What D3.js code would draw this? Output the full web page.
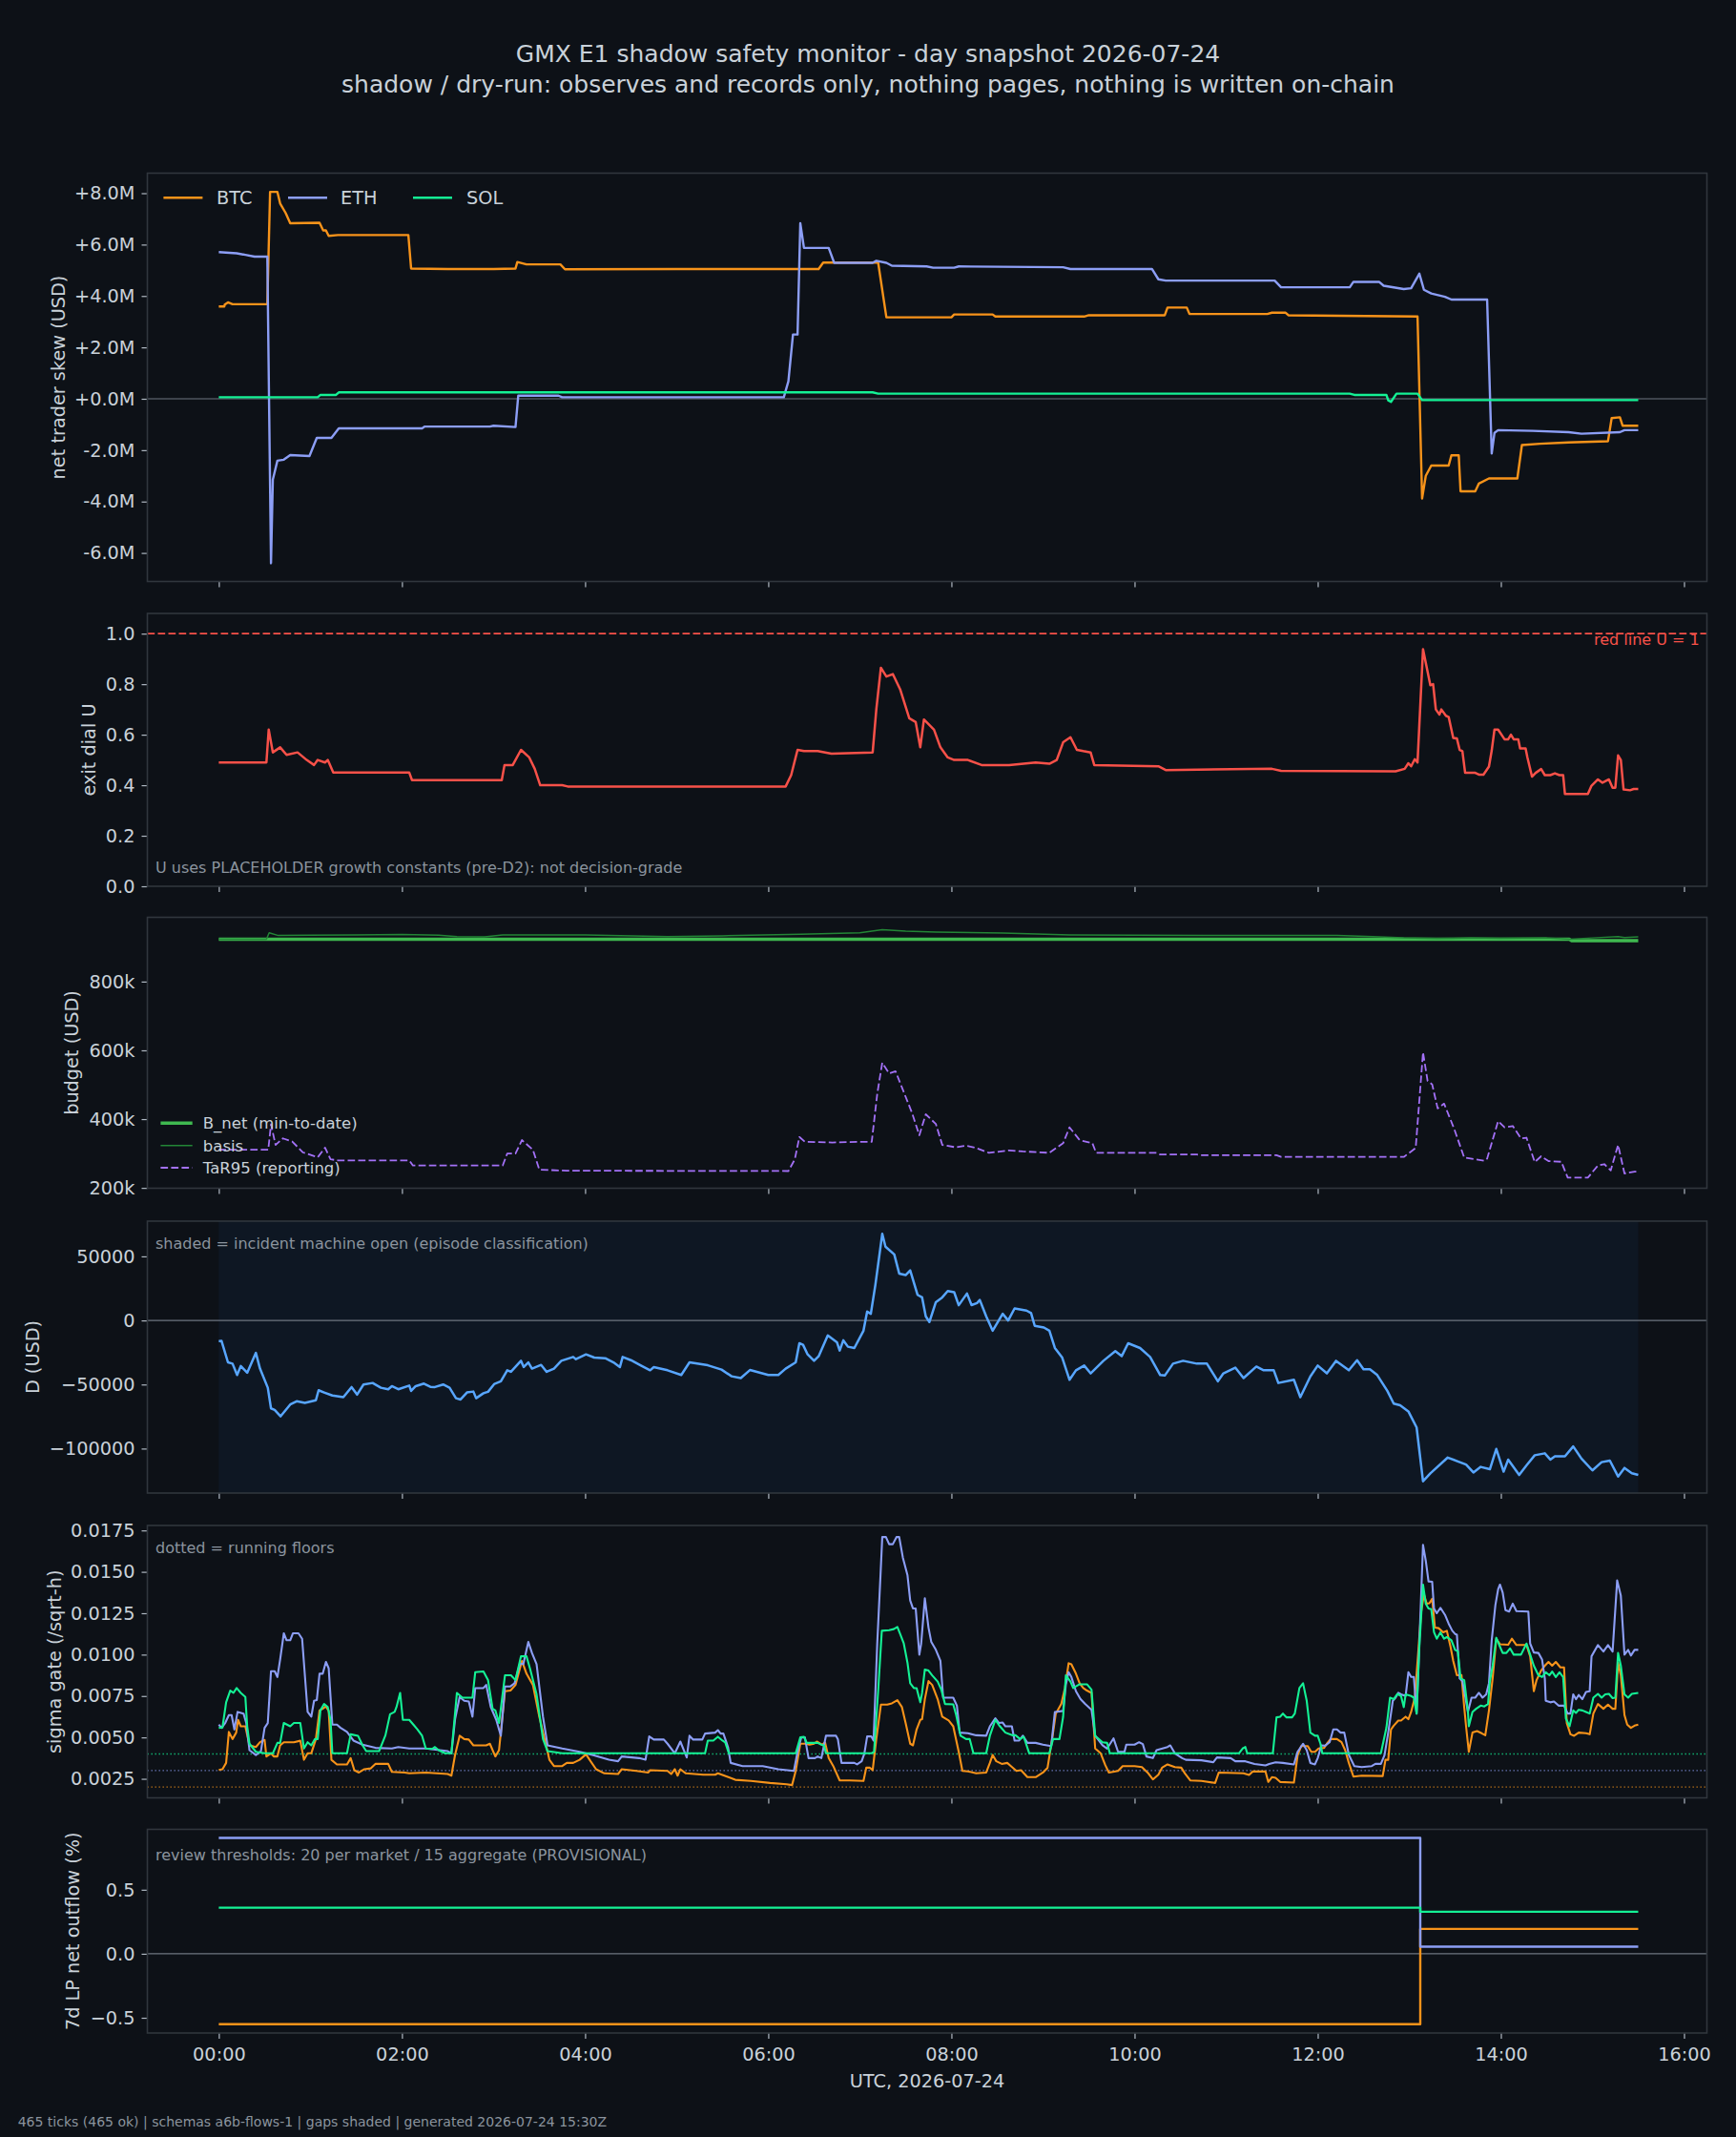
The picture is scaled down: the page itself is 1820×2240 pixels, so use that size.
<!DOCTYPE html>
<html>
<head>
<meta charset="utf-8">
<script src="https://cdn.jsdelivr.net/npm/d3@7"></script>
<style>
  body { margin: 0; background: #0d1117; }
  svg text { font-family: "DejaVu Sans", sans-serif; }
</style>
</head>
<body>
<div id="chart"></div>
<script>
// all times in hours since 00:00 UTC
var hourTicks = [0, 2, 4, 6, 8, 10, 12, 14, 16];

// net trader skew, USD millions
var btcSkew = [[0,3.59],[0.06,3.59],[0.065,3.67],[0.1,3.75],[0.15,3.68],[0.53,3.68],[0.56,8.05],[0.64,8.05],[0.67,7.6],[0.73,7.23],[0.78,6.83],[1.1,6.85],[1.14,6.55],[1.17,6.55],[1.2,6.34],[1.3,6.37],[2.07,6.37],[2.1,5.07],[2.5,5.05],[3.0,5.05],[3.24,5.07],[3.26,5.32],[3.36,5.23],[3.73,5.23],[3.78,5.04],[5.0,5.05],[6.55,5.05],[6.6,5.3],[7.2,5.3],[7.29,3.17],[8.0,3.17],[8.03,3.28],[8.45,3.28],[8.48,3.2],[9.45,3.2],[9.5,3.25],[10.33,3.25],[10.36,3.55],[10.57,3.55],[10.6,3.3],[11.45,3.3],[11.5,3.35],[11.65,3.35],[11.68,3.25],[13.09,3.2],[13.14,-3.88],[13.18,-3.0],[13.24,-2.6],[13.43,-2.6],[13.46,-2.2],[13.54,-2.2],[13.56,-3.6],[13.72,-3.6],[13.76,-3.3],[13.87,-3.1],[14.18,-3.1],[14.23,-1.8],[14.43,-1.75],[14.74,-1.7],[15.17,-1.65],[15.21,-0.75],[15.3,-0.72],[15.33,-1.05],[15.5,-1.05]];
var ethSkew = [[0,5.71],[0.195,5.66],[0.29,5.6],[0.39,5.53],[0.53,5.53],[0.57,-6.4],[0.59,-3.15],[0.64,-2.41],[0.71,-2.37],[0.78,-2.19],[0.99,-2.23],[1.07,-1.52],[1.23,-1.52],[1.31,-1.15],[2.22,-1.15],[2.25,-1.08],[2.96,-1.08],[3.0,-1.05],[3.24,-1.1],[3.27,0.12],[3.71,0.12],[3.75,0.06],[6.17,0.06],[6.22,0.68],[6.27,2.5],[6.32,2.5],[6.35,6.83],[6.39,5.87],[6.66,5.87],[6.72,5.29],[7.14,5.29],[7.18,5.37],[7.29,5.29],[7.35,5.18],[7.73,5.15],[7.8,5.1],[8.03,5.1],[8.08,5.15],[9.22,5.12],[9.3,5.05],[10.19,5.05],[10.26,4.65],[10.34,4.6],[11.53,4.6],[11.6,4.34],[12.35,4.34],[12.39,4.55],[12.67,4.55],[12.72,4.4],[12.94,4.27],[13.02,4.3],[13.11,4.87],[13.16,4.24],[13.24,4.1],[13.39,3.97],[13.46,3.86],[13.85,3.86],[13.9,-2.13],[13.93,-1.33],[13.97,-1.22],[14.35,-1.25],[14.74,-1.3],[14.88,-1.36],[15.3,-1.3],[15.35,-1.22],[15.5,-1.22]];
var solSkew = [[0,0.06],[1.08,0.06],[1.11,0.15],[1.28,0.15],[1.31,0.25],[7.14,0.25],[7.2,0.2],[12.35,0.2],[12.4,0.15],[12.75,0.15],[12.77,-0.06],[12.8,-0.12],[12.86,0.2],[13.09,0.2],[13.14,-0.05],[15.5,-0.05]];

// exit dial U
var exitU = [[0,0.49],[0.52,0.49],[0.545,0.62],[0.59,0.53],[0.67,0.55],[0.74,0.52],[0.86,0.53],[0.96,0.5],[1.04,0.48],[1.08,0.5],[1.16,0.49],[1.19,0.5],[1.25,0.45],[2.08,0.45],[2.11,0.42],[3.09,0.42],[3.12,0.48],[3.21,0.48],[3.3,0.54],[3.39,0.51],[3.45,0.465],[3.51,0.4],[3.75,0.4],[3.81,0.395],[6.19,0.395],[6.25,0.44],[6.32,0.54],[6.39,0.535],[6.54,0.535],[6.69,0.525],[7.14,0.53],[7.18,0.7],[7.23,0.865],[7.29,0.83],[7.36,0.84],[7.44,0.78],[7.54,0.665],[7.61,0.65],[7.66,0.55],[7.7,0.66],[7.81,0.62],[7.88,0.55],[7.96,0.51],[8.03,0.5],[8.18,0.5],[8.33,0.48],[8.63,0.48],[8.92,0.49],[9.07,0.485],[9.15,0.5],[9.22,0.57],[9.3,0.59],[9.37,0.54],[9.44,0.535],[9.52,0.53],[9.56,0.48],[10.26,0.475],[10.34,0.46],[11.5,0.465],[11.6,0.457],[12.85,0.455],[12.95,0.465],[12.99,0.487],[13.02,0.475],[13.06,0.503],[13.09,0.49],[13.15,0.938],[13.23,0.796],[13.26,0.8],[13.29,0.7],[13.33,0.68],[13.35,0.7],[13.4,0.675],[13.43,0.67],[13.48,0.587],[13.52,0.585],[13.55,0.54],[13.58,0.535],[13.61,0.449],[13.72,0.449],[13.76,0.442],[13.81,0.442],[13.87,0.474],[13.9,0.537],[13.93,0.62],[13.97,0.62],[14.04,0.582],[14.08,0.582],[14.11,0.6],[14.14,0.582],[14.19,0.582],[14.21,0.546],[14.27,0.546],[14.29,0.51],[14.34,0.434],[14.38,0.449],[14.44,0.464],[14.48,0.44],[14.54,0.44],[14.59,0.447],[14.64,0.44],[14.68,0.44],[14.7,0.365],[14.95,0.365],[14.99,0.398],[15.06,0.423],[15.11,0.41],[15.18,0.423],[15.22,0.39],[15.25,0.39],[15.28,0.518],[15.31,0.5],[15.34,0.383],[15.41,0.38],[15.45,0.385],[15.5,0.385]];
var redLine = 1.0;

// budget, USD thousands
var bNet = [[0,923],[14.75,923],[14.77,919],[15.5,919]];
var basis = [[0,923],[0.52,923],[0.55,942],[0.65,934],[1,935],[1.5,936],[2,937],[2.4,935],[2.6,931],[2.9,930],[3.1,936],[4,936],[4.9,931],[5.5,933],[6.36,938],[7.0,942],[7.245,951],[7.5,947],[7.83,944],[8.56,941],[9.29,936],[10.0,935],[10.75,934],[11.5,934],[12.21,934],[12.6,931],[12.94,927],[13.3,925],[13.67,927],[14.0,926],[14.5,927],[14.75,923],[15.0,927],[15.28,931],[15.35,928],[15.5,930]];
var tar95 = [[0,311],[0.54,311],[0.57,385],[0.62,325],[0.7,344],[0.8,335],[0.92,303],[1.08,289],[1.16,317],[1.22,283],[1.3,280],[2.08,280],[2.12,265],[3.1,265],[3.15,300],[3.24,300],[3.31,339],[3.43,311],[3.5,253],[3.8,250],[6.22,249],[6.29,283],[6.34,348],[6.4,334],[6.7,332],[7.0,334],[7.13,334],[7.19,473],[7.245,564],[7.32,533],[7.39,539],[7.46,492],[7.57,418],[7.65,353],[7.72,414],[7.83,386],[7.9,325],[8.05,318],[8.16,323],[8.27,316],[8.41,302],[8.63,309],[8.78,306],[9.07,302],[9.22,330],[9.29,376],[9.4,339],[9.54,330],[9.58,302],[10.24,302],[10.28,297],[10.68,297],[10.72,295],[11.55,295],[11.6,290],[12.94,290],[13.02,306],[13.07,316],[13.15,594],[13.2,511],[13.25,501],[13.31,431],[13.38,445],[13.49,372],[13.6,288],[13.82,279],[13.85,285],[13.97,394],[14.04,376],[14.13,380],[14.22,344],[14.28,346],[14.37,275],[14.44,292],[14.52,278],[14.66,276],[14.73,230],[14.95,230],[15.06,265],[15.13,269],[15.2,251],[15.28,325],[15.35,242],[15.46,247],[15.5,247]];

// D, USD thousands
var dUsd = [[0,-16.1],[0.03,-16],[0.1,-32.7],[0.15,-33.7],[0.2,-42.6],[0.24,-35.6],[0.31,-40.8],[0.405,-25.3],[0.45,-37.6],[0.535,-52.5],[0.57,-68.6],[0.61,-69.8],[0.675,-74.8],[0.78,-65.6],[0.85,-63.1],[0.94,-64.3],[1.06,-62.3],[1.09,-54.5],[1.15,-56.2],[1.24,-58.6],[1.36,-59.9],[1.45,-52],[1.51,-57.9],[1.58,-50],[1.68,-48.8],[1.77,-52.5],[1.85,-53.7],[1.89,-51.3],[1.96,-53.7],[2.08,-50.8],[2.1,-55],[2.15,-51.3],[2.24,-49.3],[2.31,-51.8],[2.36,-52],[2.45,-50],[2.52,-52.5],[2.59,-60.7],[2.64,-61.7],[2.71,-56.2],[2.78,-55.5],[2.81,-60.7],[2.89,-56.8],[2.94,-55.7],[3.01,-49.5],[3.08,-47.5],[3.15,-38.9],[3.19,-40.1],[3.3,-31.5],[3.33,-36.4],[3.38,-32.7],[3.42,-37.6],[3.52,-34.7],[3.58,-40.1],[3.66,-37.6],[3.74,-31.5],[3.87,-28.5],[3.9,-30.2],[4.01,-26.5],[4.1,-29],[4.22,-29.5],[4.31,-32.7],[4.38,-36.4],[4.41,-28.5],[4.5,-31],[4.61,-35.2],[4.71,-38.9],[4.75,-36.4],[4.9,-38.9],[5.05,-42.6],[5.14,-32.7],[5.34,-35],[5.49,-38.4],[5.6,-43.6],[5.7,-45],[5.8,-38.7],[6.0,-42.6],[6.11,-42.6],[6.19,-37.6],[6.3,-32.7],[6.34,-17.8],[6.38,-19],[6.43,-26.5],[6.5,-31.5],[6.55,-28],[6.65,-11.7],[6.75,-17],[6.78,-23.5],[6.82,-15.5],[6.87,-20.5],[6.94,-21.5],[7.04,-8],[7.08,6.9],[7.12,5.2],[7.17,27.9],[7.245,67.6],[7.28,57.6],[7.376,51.5],[7.43,36.6],[7.5,35.4],[7.55,39.1],[7.63,20],[7.68,18],[7.72,3.2],[7.76,-1.2],[7.83,14.3],[7.9,18],[7.96,23],[8.03,22],[8.08,11.9],[8.17,21],[8.22,12],[8.28,13.6],[8.31,16],[8.38,3.2],[8.45,-8],[8.56,5.2],[8.62,0],[8.69,9.4],[8.82,7.7],[8.87,5.7],[8.91,-4.2],[9.01,-5.5],[9.07,-8],[9.13,-21.5],[9.21,-29],[9.29,-46.3],[9.36,-38.9],[9.45,-35.2],[9.52,-41.3],[9.66,-31.5],[9.79,-24],[9.86,-27.8],[9.93,-17.8],[10.06,-21.5],[10.17,-28.5],[10.28,-42.6],[10.33,-43],[10.42,-33.7],[10.53,-31.5],[10.68,-33.7],[10.79,-33.7],[10.91,-47.5],[10.97,-41.3],[11.1,-36.8],[11.19,-45],[11.33,-36],[11.41,-38.9],[11.52,-38.9],[11.57,-48.8],[11.74,-46.3],[11.81,-59.9],[11.92,-43.7],[12.0,-35.2],[12.1,-41.3],[12.2,-31.5],[12.34,-38.9],[12.43,-31],[12.5,-38.1],[12.57,-38.1],[12.65,-42.6],[12.76,-54.9],[12.83,-64.9],[12.9,-66.2],[12.99,-71],[13.08,-83.5],[13.15,-125.5],[13.23,-119.3],[13.42,-107],[13.53,-110],[13.62,-112.4],[13.7,-118.6],[13.78,-114.3],[13.88,-116.1],[13.95,-100.3],[14.03,-118],[14.08,-108.6],[14.2,-120.6],[14.28,-113.1],[14.37,-105.2],[14.48,-103.7],[14.54,-108.6],[14.59,-106],[14.7,-106],[14.79,-98.3],[14.88,-107.8],[15.0,-117],[15.1,-110.6],[15.19,-109.4],[15.28,-121.8],[15.35,-115.1],[15.43,-119.3],[15.5,-120.6]];
var incidentOpen = [0, 15.5];

// sigma gate, units of 1e-3 per sqrt-h
var ethSigma = [[0,5.77],[0.03,5.58],[0.07,5.87],[0.11,6.35],[0.14,6.35],[0.17,5.48],[0.205,6.54],[0.27,6.44],[0.3,5.87],[0.335,4.23],[0.405,3.94],[0.46,4.17],[0.5,5.58],[0.535,5.87],[0.57,9.0],[0.61,9.0],[0.64,8.65],[0.67,9.71],[0.71,11.29],[0.74,10.87],[0.78,10.87],[0.81,11.29],[0.87,11.29],[0.91,10.96],[0.97,6.54],[1.01,6.25],[1.04,7.21],[1.07,7.25],[1.1,8.85],[1.135,8.85],[1.17,9.56],[1.2,9.17],[1.24,5.77],[1.29,5.77],[1.33,5.58],[1.4,5.33],[1.47,4.81],[1.57,4.56],[1.71,4.37],[1.89,4.33],[1.96,4.42],[2.08,4.33],[2.26,4.33],[2.5,4.17],[2.54,4.04],[2.58,6.1],[2.63,7.44],[2.68,7.21],[2.73,7.17],[2.77,6.25],[2.8,7.98],[2.89,7.98],[2.92,8.17],[2.97,6.83],[3.03,6.06],[3.08,5.1],[3.125,8.08],[3.185,8.08],[3.23,8.27],[3.29,9.48],[3.325,9.42],[3.38,10.77],[3.42,10.1],[3.47,9.42],[3.54,6.25],[3.59,4.52],[3.75,4.33],[3.94,4.13],[4.08,3.94],[4.26,3.65],[4.36,3.56],[4.4,3.85],[4.59,3.75],[4.66,3.65],[4.7,5.06],[4.75,4.87],[4.86,4.87],[4.9,4.62],[4.98,4.04],[5.04,4.75],[5.11,3.79],[5.14,5.1],[5.18,4.87],[5.28,4.87],[5.31,5.23],[5.42,5.29],[5.45,5.44],[5.48,5.23],[5.51,5.23],[5.56,4.42],[5.59,3.46],[5.72,3.27],[5.94,3.27],[6.11,3.08],[6.28,2.98],[6.32,4.13],[6.36,5.0],[6.4,5.0],[6.44,3.75],[6.51,3.75],[6.54,3.85],[6.58,3.75],[6.63,5.1],[6.74,5.1],[6.76,4.9],[6.8,3.46],[6.94,3.46],[6.97,3.37],[7.02,3.56],[7.05,4.04],[7.08,5.06],[7.125,5.06],[7.15,4.81],[7.19,10.67],[7.225,14.71],[7.245,17.1],[7.285,17.1],[7.32,16.67],[7.36,16.67],[7.4,17.1],[7.43,17.1],[7.47,15.86],[7.52,14.81],[7.55,13.27],[7.58,12.79],[7.61,12.79],[7.65,10.0],[7.67,10.67],[7.71,13.4],[7.75,11.63],[7.78,10.77],[7.83,10.29],[7.88,9.62],[7.91,7.4],[8.02,7.4],[8.06,6.92],[8.09,5.29],[8.18,5.25],[8.27,5.13],[8.38,5.1],[8.42,5.67],[8.48,6.15],[8.52,5.87],[8.56,5.9],[8.59,5.67],[8.66,5.67],[8.69,4.81],[8.74,4.81],[8.78,5.1],[8.83,4.67],[8.92,4.67],[9.0,4.56],[9.09,4.48],[9.13,6.54],[9.22,6.6],[9.25,8.21],[9.28,8.94],[9.31,8.65],[9.36,7.79],[9.41,7.31],[9.46,7.02],[9.53,6.67],[9.57,5.1],[9.65,4.52],[9.7,4.33],[9.77,4.94],[9.82,4.13],[9.89,4.13],[9.91,4.56],[10.0,4.56],[10.05,4.71],[10.09,4.6],[10.13,3.85],[10.2,3.75],[10.24,4.23],[10.36,4.42],[10.39,4.52],[10.44,4.04],[10.52,3.75],[10.56,3.65],[10.73,3.62],[10.86,3.5],[10.9,3.79],[11.05,3.75],[11.1,3.56],[11.21,3.56],[11.31,3.4],[11.43,3.31],[11.47,3.4],[11.54,3.5],[11.62,3.46],[11.74,3.37],[11.78,4.13],[11.84,4.62],[11.88,4.23],[11.92,3.46],[11.97,3.37],[12.0,3.75],[12.04,4.52],[12.08,4.5],[12.13,4.71],[12.17,5.48],[12.21,5.48],[12.25,5.29],[12.29,5.29],[12.34,3.94],[12.4,3.27],[12.48,3.21],[12.59,3.27],[12.63,3.4],[12.69,3.4],[12.73,3.94],[12.77,5.29],[12.82,7.21],[12.85,7.4],[12.88,7.69],[12.91,7.6],[12.96,7.5],[12.99,8.94],[13.02,8.65],[13.05,8.65],[13.08,6.44],[13.11,10.67],[13.15,16.63],[13.18,15.67],[13.21,14.42],[13.25,14.4],[13.27,12.79],[13.3,12.5],[13.34,12.83],[13.39,12.4],[13.43,11.87],[13.47,11.44],[13.5,11.25],[13.52,11.2],[13.55,8.56],[13.58,8.4],[13.61,7.5],[13.64,6.54],[13.68,7.4],[13.72,7.4],[13.76,7.69],[13.8,7.4],[13.84,7.6],[13.87,8.27],[13.9,10.87],[13.94,12.98],[13.97,13.94],[13.99,14.23],[14.02,13.75],[14.05,12.69],[14.09,12.6],[14.13,13.08],[14.17,12.63],[14.3,12.6],[14.32,10.67],[14.36,10.13],[14.41,10.1],[14.45,9.71],[14.48,8.56],[14.49,7.21],[14.54,7.12],[14.58,7.17],[14.63,6.92],[14.69,6.92],[14.73,6.44],[14.76,6.44],[14.79,7.6],[14.82,7.31],[14.85,7.56],[14.89,7.31],[14.93,7.75],[14.97,7.79],[14.99,9.9],[15.06,10.58],[15.12,10.19],[15.17,10.58],[15.22,10.19],[15.27,14.48],[15.31,13.56],[15.35,10.0],[15.39,10.29],[15.42,9.94],[15.46,10.29],[15.5,10.29]];
var btcSigma = [[0,3.04],[0.04,3.08],[0.08,3.46],[0.11,5.33],[0.15,4.9],[0.19,5.29],[0.21,6.06],[0.24,5.67],[0.29,5.67],[0.335,4.52],[0.405,4.42],[0.45,4.71],[0.5,4.85],[0.52,3.85],[0.57,4.04],[0.6,3.85],[0.64,3.85],[0.67,4.52],[0.71,4.71],[0.82,4.71],[0.89,4.8],[0.93,3.65],[0.97,4.04],[1.01,4.04],[1.06,4.9],[1.1,6.63],[1.135,6.73],[1.17,6.87],[1.2,6.6],[1.23,3.65],[1.29,3.37],[1.4,3.37],[1.44,3.75],[1.48,3.02],[1.53,2.88],[1.59,3.08],[1.66,3.13],[1.71,3.4],[1.85,3.4],[1.89,2.92],[2.03,2.88],[2.08,2.83],[2.26,2.88],[2.5,2.79],[2.54,2.69],[2.58,3.94],[2.63,5.1],[2.68,4.9],[2.73,4.87],[2.78,4.52],[2.92,4.52],[2.96,4.62],[3.02,3.85],[3.06,4.23],[3.125,7.79],[3.185,7.83],[3.24,8.17],[3.31,9.62],[3.36,8.85],[3.43,8.17],[3.5,6.25],[3.57,4.62],[3.61,3.65],[3.66,3.27],[3.75,3.27],[3.8,3.46],[3.87,3.46],[3.94,3.65],[4.01,3.98],[4.06,3.56],[4.12,3.08],[4.21,2.83],[4.36,2.79],[4.4,3.08],[4.56,2.98],[4.69,2.88],[4.71,3.02],[4.9,2.98],[4.94,2.79],[4.98,3.08],[5.01,2.69],[5.04,3.08],[5.1,2.83],[5.29,2.75],[5.42,2.75],[5.45,2.83],[5.55,2.63],[5.64,2.44],[5.81,2.37],[6.02,2.25],[6.2,2.17],[6.26,2.12],[6.3,2.98],[6.35,4.62],[6.41,4.62],[6.45,4.56],[6.5,4.62],[6.53,4.75],[6.59,4.56],[6.62,4.7],[6.66,3.75],[6.71,3.27],[6.78,2.4],[6.89,2.4],[7.04,2.37],[7.07,3.17],[7.11,3.17],[7.14,3.02],[7.18,4.9],[7.23,6.98],[7.3,6.98],[7.35,7.06],[7.41,7.25],[7.46,6.83],[7.5,5.87],[7.55,4.62],[7.58,4.52],[7.62,5.48],[7.66,6.06],[7.68,6.1],[7.71,7.31],[7.75,8.4],[7.79,8.17],[7.85,7.31],[7.9,6.25],[7.97,6.02],[8.02,5.67],[8.08,4.13],[8.12,2.98],[8.18,2.95],[8.27,2.83],[8.38,2.88],[8.42,3.46],[8.45,3.94],[8.49,3.56],[8.55,3.4],[8.61,3.46],[8.65,3.27],[8.71,2.98],[8.76,3.02],[8.83,2.6],[8.92,2.6],[9.0,2.88],[9.05,3.17],[9.1,4.9],[9.14,6.44],[9.2,7.02],[9.24,7.98],[9.28,9.48],[9.31,9.42],[9.36,8.85],[9.4,8.27],[9.44,7.98],[9.48,7.83],[9.53,7.69],[9.57,4.33],[9.63,4.04],[9.68,3.33],[9.72,2.88],[9.82,2.98],[9.87,3.27],[10.0,3.27],[10.08,3.21],[10.15,2.83],[10.2,2.46],[10.26,2.75],[10.3,3.17],[10.36,3.37],[10.44,3.21],[10.51,3.17],[10.55,2.83],[10.61,2.4],[10.73,2.37],[10.88,2.25],[10.92,2.88],[11.19,2.83],[11.25,2.73],[11.29,2.94],[11.43,2.94],[11.46,2.31],[11.5,2.6],[11.54,2.56],[11.59,2.31],[11.74,2.27],[11.78,3.9],[11.82,4.48],[11.89,4.48],[11.93,4.13],[11.97,4.13],[12.01,4.33],[12.07,4.37],[12.1,4.62],[12.14,4.9],[12.21,4.9],[12.26,4.71],[12.3,4.23],[12.34,3.46],[12.39,2.63],[12.48,2.69],[12.71,2.67],[12.74,3.65],[12.77,3.65],[12.8,5.48],[12.83,5.71],[12.88,6.02],[12.91,6.02],[12.96,6.25],[12.99,6.1],[13.02,6.54],[13.06,7.4],[13.1,10.29],[13.13,12.6],[13.16,13.65],[13.19,13.08],[13.22,13.1],[13.25,13.37],[13.28,11.63],[13.32,11.6],[13.37,11.35],[13.41,11.44],[13.45,10.48],[13.48,9.62],[13.52,8.75],[13.57,8.77],[13.6,6.83],[13.62,5.67],[13.65,4.13],[13.69,5.29],[13.74,5.38],[13.79,5.25],[13.83,5.13],[13.87,6.63],[13.91,8.56],[13.95,10.96],[13.99,10.63],[14.08,10.6],[14.12,10.96],[14.17,10.58],[14.28,10.58],[14.32,9.9],[14.36,7.79],[14.39,8.46],[14.44,9.04],[14.48,9.33],[14.52,9.56],[14.56,9.33],[14.6,9.56],[14.65,9.23],[14.69,9.23],[14.72,5.87],[14.76,5.19],[14.8,5.1],[14.85,5.29],[14.93,5.25],[14.97,5.19],[15.01,6.44],[15.06,7.02],[15.12,6.73],[15.17,6.98],[15.22,6.73],[15.25,6.73],[15.28,9.52],[15.31,8.75],[15.35,6.35],[15.38,5.77],[15.42,5.58],[15.46,5.71],[15.5,5.77]];
var solSigma = [[0,5.58],[0.04,5.6],[0.08,7.12],[0.125,7.83],[0.16,7.69],[0.195,7.98],[0.24,7.69],[0.29,7.44],[0.31,5.67],[0.335,4.62],[0.405,4.13],[0.5,4.04],[0.59,4.04],[0.64,4.67],[0.67,4.67],[0.71,5.87],[0.78,5.67],[0.82,5.87],[0.89,5.87],[0.93,4.33],[0.97,4.71],[1.01,4.52],[1.05,4.9],[1.08,4.9],[1.11,6.63],[1.15,7.02],[1.19,6.83],[1.22,6.06],[1.24,4.04],[1.4,4.04],[1.44,5.19],[1.52,5.1],[1.57,4.52],[1.61,4.17],[1.75,4.17],[1.82,5.13],[1.87,6.4],[1.92,6.54],[1.94,6.83],[1.98,7.69],[2.01,6.06],[2.08,6.06],[2.125,5.77],[2.17,5.48],[2.22,5.1],[2.26,4.33],[2.33,4.3],[2.36,4.42],[2.4,4.23],[2.47,4.04],[2.54,4.04],[2.6,7.69],[2.66,7.4],[2.77,7.4],[2.8,8.94],[2.89,8.98],[2.94,8.46],[2.99,6.73],[3.02,6.63],[3.06,5.87],[3.125,8.75],[3.19,8.75],[3.24,8.46],[3.3,9.9],[3.36,9.9],[3.4,9.13],[3.47,7.6],[3.54,4.9],[3.59,4.17],[3.75,4.04],[5.31,4.04],[5.34,4.81],[5.4,4.81],[5.45,5.04],[5.5,4.81],[5.53,4.7],[5.57,4.04],[6.3,4.04],[6.35,5.0],[6.39,5.04],[6.42,4.67],[6.54,4.67],[6.58,4.56],[6.61,4.5],[6.63,4.04],[7.125,4.04],[7.155,4.13],[7.2,7.79],[7.24,11.44],[7.32,11.48],[7.37,11.54],[7.41,11.67],[7.44,11.25],[7.48,10.67],[7.52,9.52],[7.55,8.27],[7.59,7.98],[7.62,7.98],[7.66,7.12],[7.68,7.69],[7.71,9.1],[7.75,9.04],[7.79,8.75],[7.85,8.37],[7.89,7.88],[7.93,7.02],[8.02,7.0],[8.05,6.4],[8.1,5.1],[8.16,4.9],[8.2,4.9],[8.24,4.04],[8.38,4.04],[8.42,5.1],[8.48,6.06],[8.53,5.67],[8.59,5.29],[8.67,5.13],[8.7,5.13],[8.75,4.9],[8.79,5.04],[8.85,4.04],[9.07,4.04],[9.11,4.9],[9.18,4.9],[9.22,6.25],[9.25,8.75],[9.3,8.37],[9.33,7.98],[9.4,8.21],[9.48,8.21],[9.53,7.88],[9.57,5.1],[9.65,4.71],[9.7,4.67],[9.73,4.04],[11.14,4.04],[11.18,4.33],[11.21,4.42],[11.23,4.04],[11.51,4.04],[11.55,6.21],[11.59,6.25],[11.62,6.44],[11.66,6.21],[11.72,6.21],[11.75,6.44],[11.8,7.98],[11.84,8.27],[11.88,7.21],[11.92,5.29],[11.97,5.1],[12.0,5.1],[12.03,4.62],[12.05,4.04],[12.69,4.04],[12.75,5.58],[12.79,7.4],[12.83,7.31],[12.87,7.63],[12.91,7.5],[12.94,6.83],[12.96,7.6],[13.02,7.5],[13.05,7.4],[13.08,6.44],[13.11,10.48],[13.15,14.23],[13.18,13.08],[13.21,12.79],[13.24,12.75],[13.27,11.35],[13.3,10.96],[13.34,11.35],[13.38,10.96],[13.41,11.06],[13.46,10.87],[13.5,10.29],[13.53,10.2],[13.56,8.56],[13.6,8.46],[13.64,6.63],[13.65,5.67],[13.69,6.54],[13.73,6.73],[13.78,6.92],[13.82,6.87],[13.86,7.02],[13.88,8.37],[13.91,9.33],[13.95,11.02],[13.99,10.48],[14.02,10.1],[14.06,10.1],[14.1,10.38],[14.14,10.0],[14.22,10.0],[14.28,10.67],[14.32,10.0],[14.36,9.33],[14.41,8.75],[14.45,8.65],[14.49,8.94],[14.53,8.75],[14.56,8.98],[14.6,8.65],[14.64,8.94],[14.68,8.65],[14.71,6.15],[14.75,5.67],[14.79,6.63],[14.82,6.48],[14.85,6.67],[14.89,6.63],[14.93,6.54],[14.97,6.44],[15.01,7.4],[15.06,7.63],[15.1,7.4],[15.14,7.6],[15.18,7.63],[15.22,7.37],[15.25,7.4],[15.28,10.1],[15.31,9.33],[15.35,7.6],[15.39,7.4],[15.43,7.63],[15.5,7.69]];
var sigmaFloors = [2.0, 3.0, 4.0]; // BTC, ETH, SOL

// 7d LP net outflow, percent
var lpBtc = [[0,-0.55],[13.12,0.194],[15.5,0.194]];
var lpEth = [[0,0.905],[13.12,0.055],[15.5,0.055]];
var lpSol = [[0,0.36],[13.12,0.328],[15.5,0.328]];

var C = {
  bg: '#0d1117', spine: '#30363d', text: '#c9d1d9', muted: '#8b949e', zero: '#6e7681',
  btc: '#f7931a', eth: '#8c9ef5', sol: '#14f195', red: '#f85149',
  bnet: '#3fb950', basis: '#238636', tar: '#a371f7', d: '#58a6ff'
};

var W = 1820, H = 2240, left = 154.5, right = 1789.5;
var FS = 19.3; // tick / label font size

var svg = d3.select('#chart').append('svg')
  .attr('width', W).attr('height', H);
svg.append('rect').attr('width', W).attr('height', H).attr('fill', C.bg);

svg.append('text').attr('x', 910).attr('y', 65).attr('text-anchor', 'middle')
  .attr('font-size', 25).attr('fill', C.text)
  .text('GMX E1 shadow safety monitor - day snapshot 2026-07-24');
svg.append('text').attr('x', 910).attr('y', 96.5).attr('text-anchor', 'middle')
  .attr('font-size', 25).attr('fill', C.text)
  .text('shadow / dry-run: observes and records only, nothing pages, nothing is written on-chain');

var x = d3.scaleLinear().domain([-0.78, 16.25]).range([left, right]);

function panel(top, bottom, domain, ticks, fmt, label, labelX, showX) {
  var y = d3.scaleLinear().domain(domain).range([bottom, top]);
  var g = svg.append('g');

  var ya = g.append('g').attr('transform', 'translate(' + left + ',0)')
    .call(d3.axisLeft(y).tickValues(ticks).tickFormat(fmt).tickSize(6).tickPadding(7));
  var xa = g.append('g').attr('transform', 'translate(0,' + bottom + ')')
    .call(d3.axisBottom(x).tickValues(hourTicks).tickSize(6).tickPadding(9)
      .tickFormat(showX ? function(h) { return d3.format('02d')(h) + ':00'; } : ''));
  [ya, xa].forEach(function(a) {
    a.select('.domain').remove();
    a.attr('font-family', null).attr('font-size', FS);
    a.selectAll('line').attr('stroke', '#b1bac4').attr('stroke-width', 1.2);
    a.selectAll('text').attr('fill', C.text);
  });

  g.append('text')
    .attr('transform', 'translate(' + labelX + ',' + (top + bottom) / 2 + ') rotate(-90)')
    .attr('text-anchor', 'middle').attr('dominant-baseline', 'central')
    .attr('font-size', FS).attr('fill', C.text).text(label);

  var plot = g.append('g');
  g.append('rect').attr('x', left).attr('y', top)
    .attr('width', right - left).attr('height', bottom - top)
    .attr('fill', 'none').attr('stroke', C.spine).attr('stroke-width', 1.6);
  return { y: y, plot: plot, top: top, bottom: bottom };
}

function drawLine(p, data, color, width, dash, curve) {
  var line = d3.line().x(function(d) { return x(d[0]); }).y(function(d) { return p.y(d[1]); });
  if (curve) line.curve(curve);
  p.plot.append('path').datum(data).attr('d', line)
    .attr('fill', 'none').attr('stroke', color).attr('stroke-width', width)
    .attr('stroke-linejoin', 'round').attr('stroke-dasharray', dash || null);
}

function hline(p, v, color, width, dash, opacity) {
  p.plot.append('line').attr('x1', left).attr('x2', right)
    .attr('y1', p.y(v)).attr('y2', p.y(v))
    .attr('stroke', color).attr('stroke-width', width)
    .attr('stroke-dasharray', dash || null).attr('opacity', opacity || 1);
}

function note(p, yPos, txt, color, anchor, xPos, size) {
  p.plot.append('text').attr('x', xPos || 163).attr('y', yPos)
    .attr('text-anchor', anchor || 'start').attr('font-size', size || 16)
    .attr('fill', color || C.muted).text(txt);
}

// panel 1: net trader skew
var p1 = panel(181.5, 609.5, [-7.11, 8.78], [-6, -4, -2, 0, 2, 4, 6, 8],
  function(v) { return (v >= 0 ? '+' : '-') + Math.abs(v).toFixed(1) + 'M'; },
  'net trader skew (USD)', 61, false);
hline(p1, 0, C.zero, 1.2);
drawLine(p1, btcSkew, C.btc, 2.4);
drawLine(p1, ethSkew, C.eth, 2.4);
drawLine(p1, solSkew, C.sol, 2.4);
[['BTC', C.btc, 171.4, 227], ['ETH', C.eth, 302, 357], ['SOL', C.sol, 433, 489]].forEach(function(l) {
  p1.plot.append('line').attr('x1', l[2]).attr('x2', l[2] + 41).attr('y1', 207.3).attr('y2', 207.3)
    .attr('stroke', l[1]).attr('stroke-width', 2.6);
  p1.plot.append('text').attr('x', l[3]).attr('y', 214.2).attr('font-size', FS)
    .attr('fill', C.text).text(l[0]);
});

// panel 2: exit dial
var p2 = panel(643, 929, [0, 1.08], [0, 0.2, 0.4, 0.6, 0.8, 1.0], d3.format('.1f'),
  'exit dial U', 93, false);
hline(p2, redLine, C.red, 1.8, '7.7,3.3');
drawLine(p2, exitU, C.red, 2.5);
note(p2, 675.5, 'red line U = 1', C.red, 'end', 1781.7);
note(p2, 914.5, 'U uses PLACEHOLDER growth constants (pre-D2): not decision-grade');

// panel 3: budget
var p3 = panel(961.5, 1245.5, [199, 987], [200, 400, 600, 800],
  function(v) { return v + 'k'; }, 'budget (USD)', 75.4, false);
drawLine(p3, bNet, C.bnet, 3.4);
drawLine(p3, basis, C.basis, 1.5);
drawLine(p3, tar95, C.tar, 1.8, '7.7,3.3');
[['B_net (min-to-date)', C.bnet, 3.4, null, 1177.3],
 ['basis', C.basis, 1.5, null, 1200.7],
 ['TaR95 (reporting)', C.tar, 1.8, '7.7,3.3', 1224]].forEach(function(l) {
  p3.plot.append('line').attr('x1', 168.4).attr('x2', 201.7).attr('y1', l[4]).attr('y2', l[4])
    .attr('stroke', l[1]).attr('stroke-width', l[2]).attr('stroke-dasharray', l[3]);
  p3.plot.append('text').attr('x', 212.8).attr('y', l[4] + 5.8).attr('font-size', 16.5)
    .attr('fill', C.text).text(l[0]);
});

// panel 4: D
var p4 = panel(1280, 1565, [-134.7, 77.5], [-100, -50, 0, 50],
  function(v) { return d3.format('d')(v * 1000); }, 'D (USD)', 34.4, false);
p4.plot.append('rect').attr('x', x(incidentOpen[0])).attr('y', p4.top)
  .attr('width', x(incidentOpen[1]) - x(incidentOpen[0])).attr('height', p4.bottom - p4.top)
  .attr('fill', '#1f6feb').attr('opacity', 0.06);
hline(p4, 0, C.zero, 1.2);
drawLine(p4, dUsd, C.d, 2.5);
note(p4, 1309, 'shaded = incident machine open (episode classification)');

// panel 5: sigma gate
var p5 = panel(1599, 1884.5, [1.35, 17.8], [2.5, 5, 7.5, 10, 12.5, 15, 17.5],
  function(v) { return (v / 1000).toFixed(4); }, 'sigma gate (/sqrt-h)', 57, false);
[C.btc, C.eth, C.sol].forEach(function(c, i) {
  hline(p5, sigmaFloors[i], c, 1.3, '1.4,2.6', 0.75);
});
drawLine(p5, btcSigma, C.btc, 2.1);
drawLine(p5, ethSigma, C.eth, 2.1);
drawLine(p5, solSigma, C.sol, 2.1);
note(p5, 1628, 'dotted = running floors');

// panel 6: LP outflow
var p6 = panel(1917.5, 2131, [-0.619, 0.972], [-0.5, 0, 0.5], d3.format('.1f'),
  '7d LP net outflow (%)', 76, true);
hline(p6, 0, C.zero, 1.2);
drawLine(p6, lpBtc, C.btc, 2.4, null, d3.curveStepAfter);
drawLine(p6, lpEth, C.eth, 2.4, null, d3.curveStepAfter);
drawLine(p6, lpSol, C.sol, 2.4, null, d3.curveStepAfter);
note(p6, 1950, 'review thresholds: 20 per market / 15 aggregate (PROVISIONAL)');

svg.append('text').attr('x', 972).attr('y', 2187.5).attr('text-anchor', 'middle')
  .attr('font-size', FS).attr('fill', C.text).text('UTC, 2026-07-24');
svg.append('text').attr('x', 18.7).attr('y', 2228.5).attr('font-size', 14)
  .attr('fill', C.muted)
  .text('465 ticks (465 ok) | schemas a6b-flows-1 | gaps shaded | generated 2026-07-24 15:30Z');
</script>
</body>
</html>
